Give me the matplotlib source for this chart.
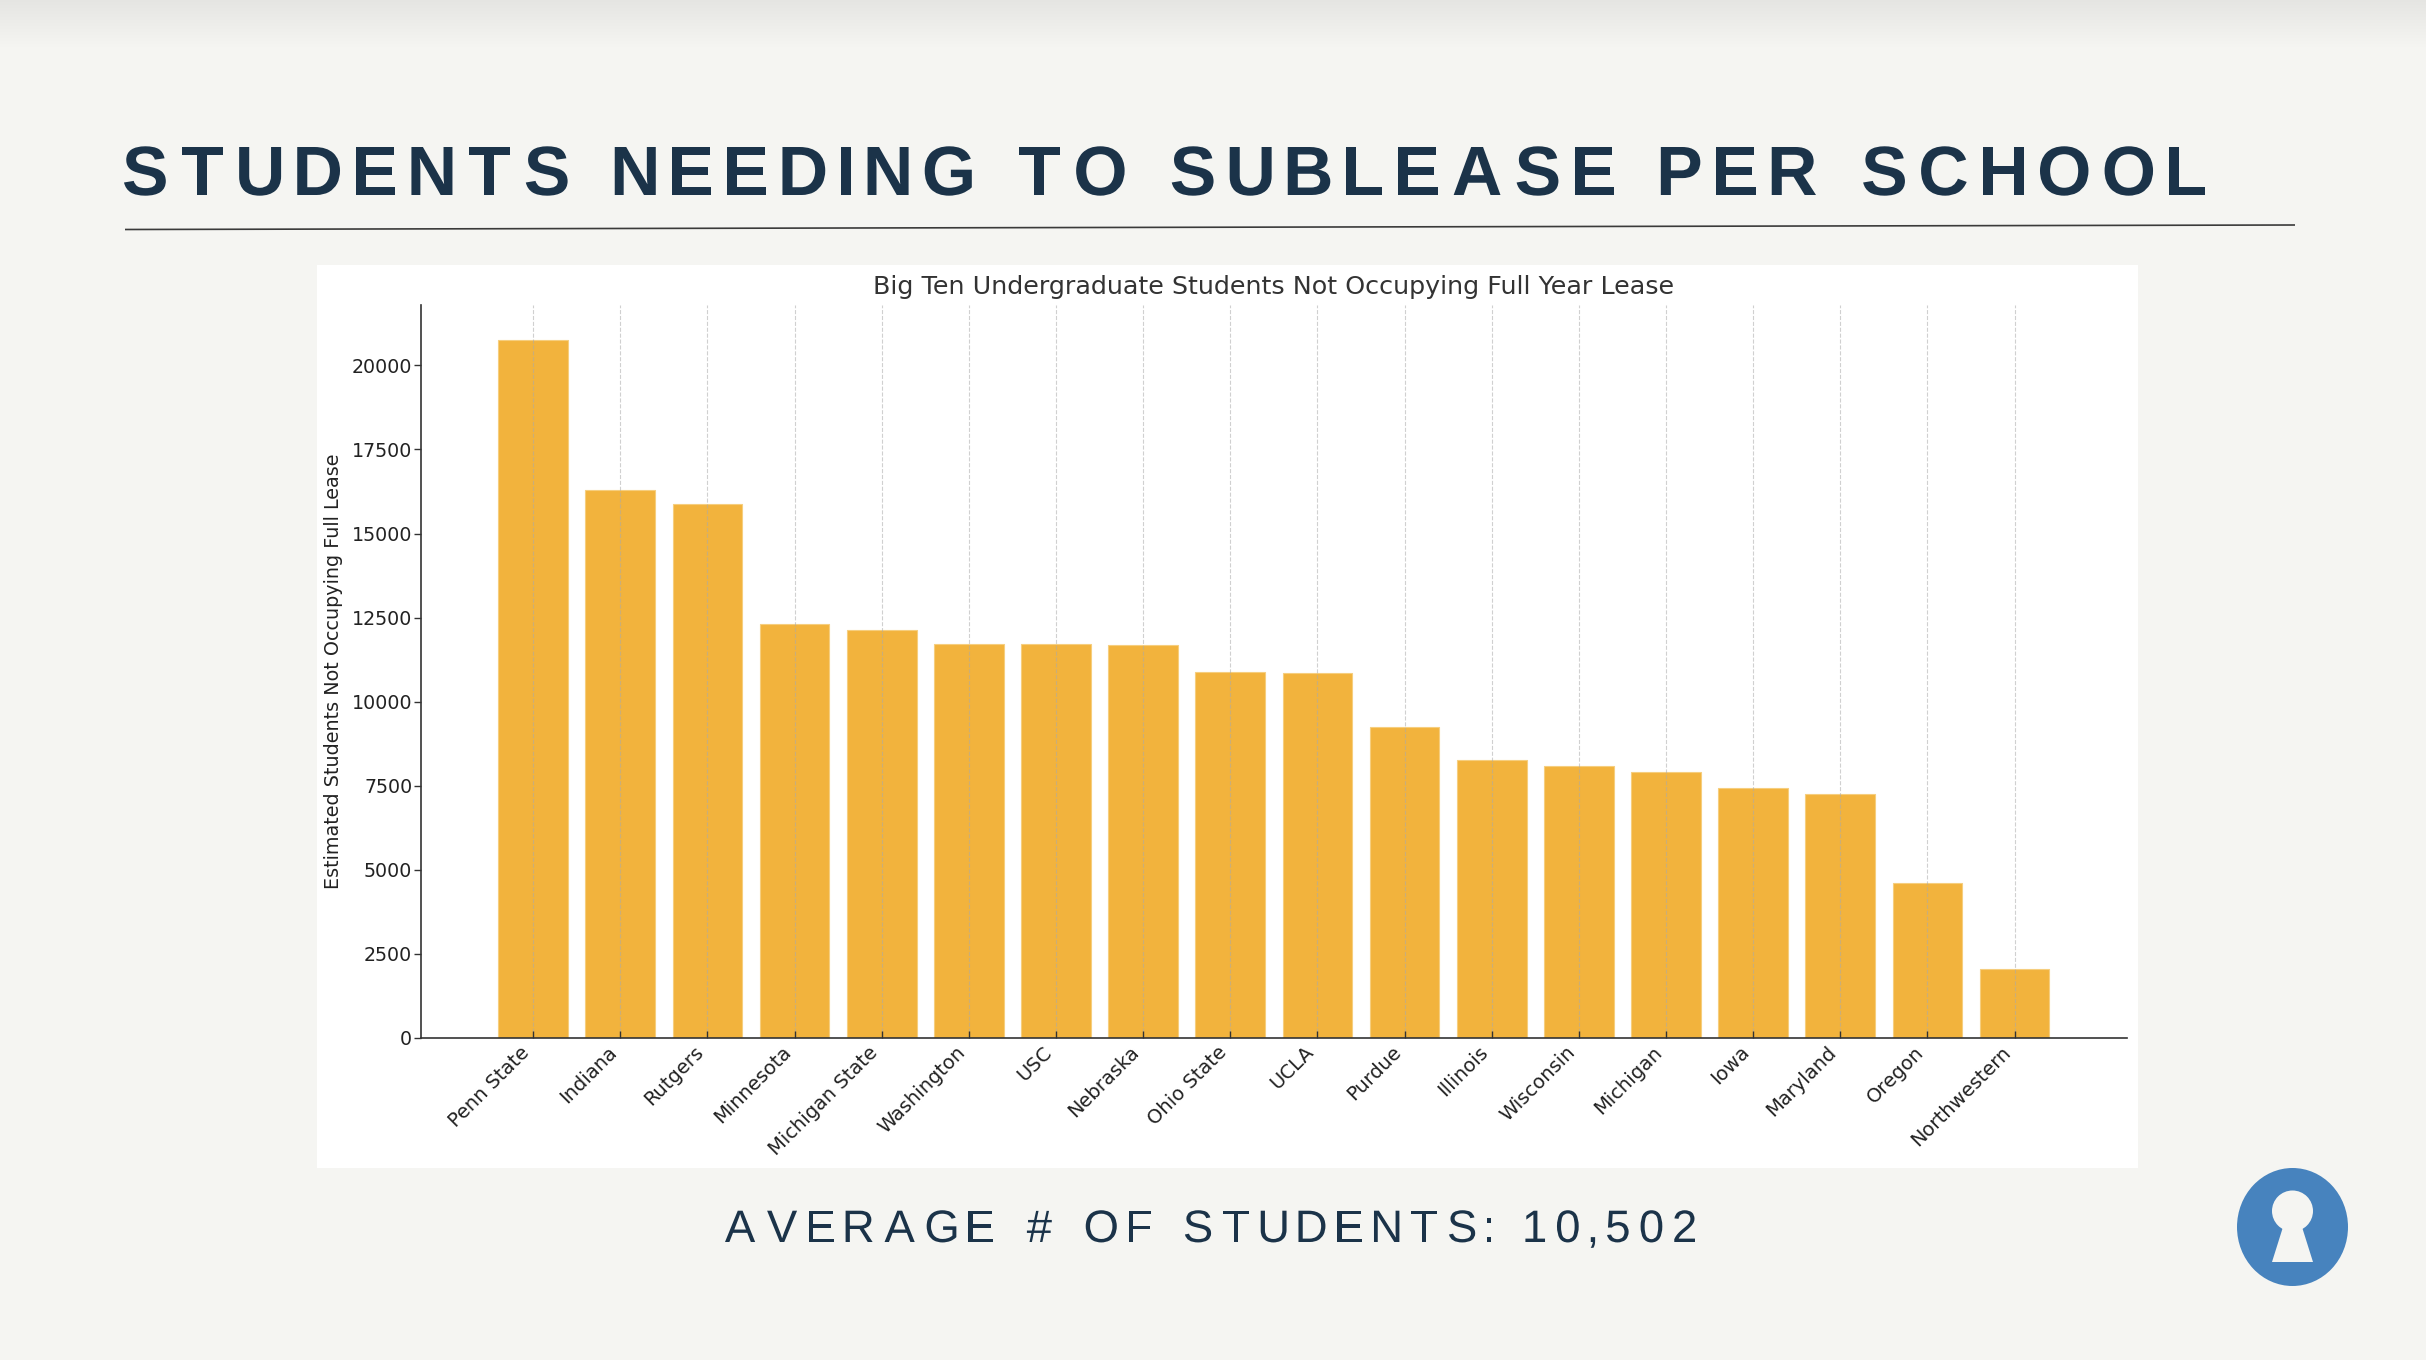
import matplotlib
matplotlib.use("Agg")
import matplotlib.pyplot as plt
import numpy as np
from matplotlib.patches import Rectangle, Ellipse, Circle, Polygon, PathPatch
from matplotlib.textpath import TextPath
from matplotlib.font_manager import FontProperties
from matplotlib.transforms import Affine2D

# data
schools = ["Penn State", "Indiana", "Rutgers", "Minnesota", "Michigan State",
           "Washington", "USC", "Nebraska", "Ohio State", "UCLA", "Purdue",
           "Illinois", "Wisconsin", "Michigan", "Iowa", "Maryland", "Oregon",
           "Northwestern"]
students = [20760, 16290, 15870, 12310, 12130, 11700, 11710, 11670, 10880,
            10850, 9250, 8250, 8070, 7890, 7430, 7240, 4610, 2050]

page_title = "STUDENTS NEEDING TO SUBLEASE PER SCHOOL"
chart_title = "Big Ten Undergraduate Students Not Occupying Full Year Lease"
y_label = "Estimated Students Not Occupying Full Lease"
footer = "AVERAGE # OF STUDENTS: 10,502"

W, H = 2426, 1360
BG = "#F5F5F2"
NAVY = "#1B3349"
BAR = "#F2B33D"


def spaced_text(ax, s, left, right, baseline, cap_px, prop, color, word_extra):
    # lay letters out one by one so the wide letter spacing can be matched
    ref = TextPath((0, 0), "H", size=100, prop=prop).get_extents()
    size = 100 * cap_px / ref.height
    glyphs = []
    spaces_before = 0
    for ch in s:
        if ch == " ":
            spaces_before += 1
            continue
        tp = TextPath((0, 0), ch, size=size, prop=prop)
        ext = tp.get_extents()
        glyphs.append((tp, ext, spaces_before))
        spaces_before = 0
    ink = sum(e.width for _, e, _ in glyphs)
    n_spaces = sum(sp for _, _, sp in glyphs)
    gap = (right - left - ink - n_spaces * word_extra) / (len(glyphs) - 1)
    x = left
    for i, (tp, ext, sp) in enumerate(glyphs):
        if i > 0:
            x += gap + sp * word_extra
        tr = Affine2D().translate(-ext.x0, 0).scale(1, -1).translate(x, baseline)
        ax.add_patch(PathPatch(tr.transform_path(tp), facecolor=color, lw=0))
        x += ext.width


fig = plt.figure(figsize=(W / 100, H / 100), dpi=100, facecolor=BG)

# page background, drawn in pixel coordinates
bg = fig.add_axes([0, 0, 1, 1])
bg.set_facecolor(BG)
shade = np.zeros((50, 1, 4))
shade[:, 0, 3] = np.linspace(0.065, 0.0, 50)
bg.imshow(shade, extent=(0, W, 50, 0), aspect="auto", interpolation="bilinear")
bg.add_patch(Rectangle((317, 265), 2138 - 317, 1168 - 265, facecolor="white", lw=0))
bg.plot([125, 2295], [229.5, 225], color="#3a3a3a", lw=1.2, solid_capstyle="butt")

bold = FontProperties(family="Liberation Sans", weight="bold")
regular = FontProperties(family="Liberation Sans", weight="normal")
spaced_text(bg, page_title, 124, 2205, 195, 48, bold, NAVY, 31)
spaced_text(bg, footer, 725, 1695, 1242, 31.3, regular, NAVY, 22)

# keyhole logo
bg.add_patch(Ellipse((2292.5, 1227), 111, 118, facecolor="#4783BE", lw=0))
bg.add_patch(Circle((2292.5, 1211), 20.5, facecolor=BG, lw=0))
bg.add_patch(Polygon([(2283, 1227), (2302, 1227), (2313, 1262), (2272, 1262)],
                     closed=True, facecolor=BG, lw=0))

bg.set_xlim(0, W)
bg.set_ylim(H, 0)
bg.axis("off")

# the bar chart itself
ax = fig.add_axes([420.7 / W, 1 - 1037.7 / H, (2127 - 420.7) / W, (1037.7 - 305) / H])
ax.set_facecolor("white")
x = np.arange(len(schools))
ax.bar(x, students, width=0.8, color=BAR, edgecolor="#F6CE7E", linewidth=0.8)
ax.set_xticks(x)
ax.set_xticklabels(schools, rotation=45, ha="right", fontsize=14, color="#222222")
ax.tick_params(axis="x", direction="in", length=5, width=1, color="#333333")
ax.tick_params(axis="y", direction="out", length=5, width=1, color="#333333",
               pad=1, labelsize=13.7, labelcolor="#222222")
ax.grid(axis="x", linestyle="--", color="#aaaaaa", alpha=0.55, linewidth=0.8)
ax.set_axisbelow(False)
for side in ["top", "right"]:
    ax.spines[side].set_visible(False)
for side in ["left", "bottom"]:
    ax.spines[side].set_color("#333333")
    ax.spines[side].set_linewidth(1.2)
ax.set_ylabel(y_label, fontsize=13.8, color="#222222", labelpad=6)
ax.set_title(chart_title, fontsize=18.3, color="#333333", pad=8)

fig.savefig("out.png", dpi=100, facecolor=BG)
